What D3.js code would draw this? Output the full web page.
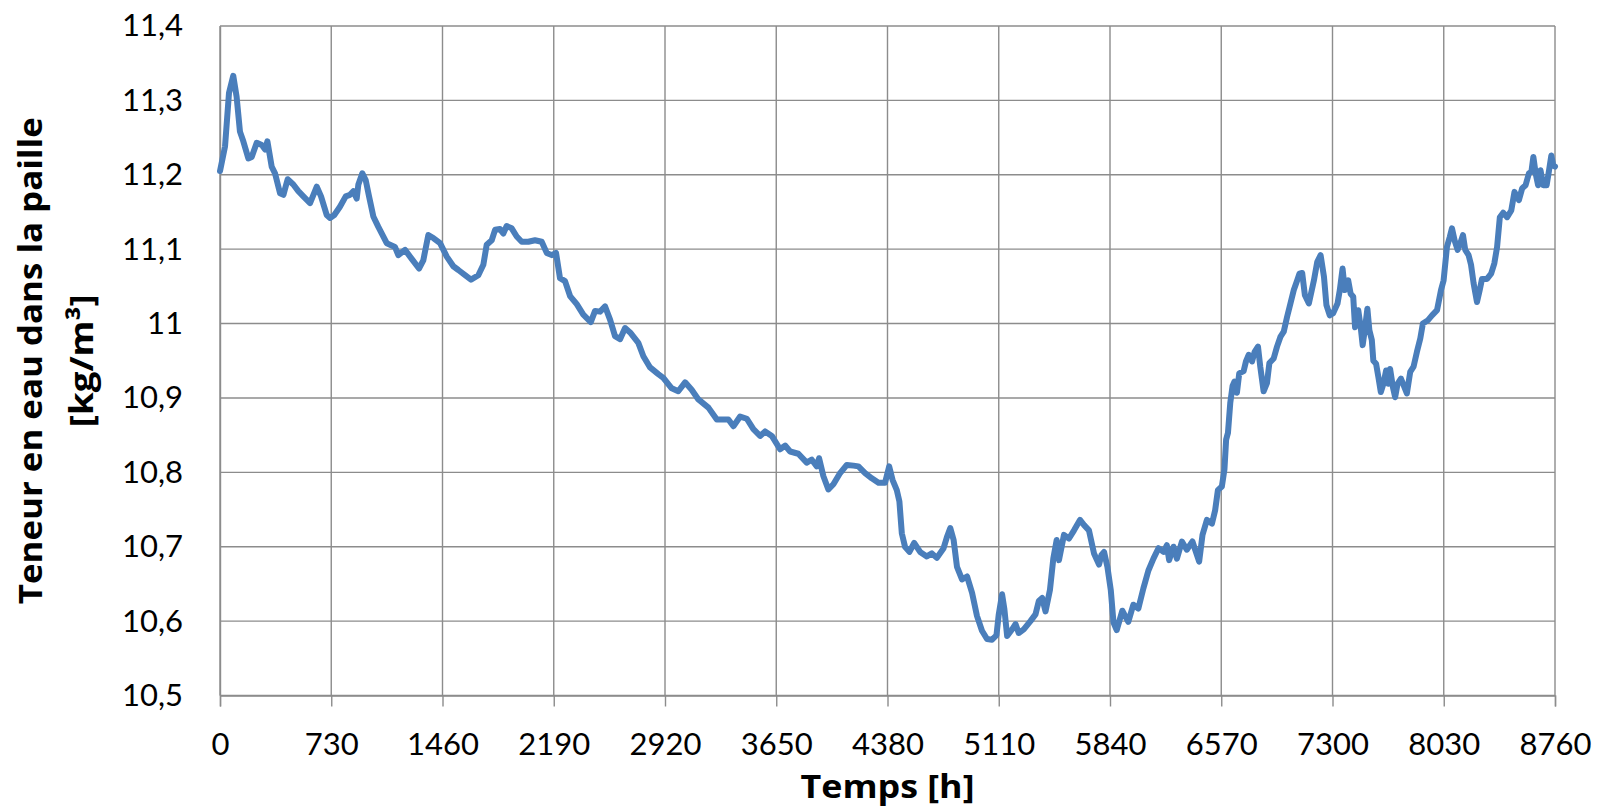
<!DOCTYPE html>
<html>
<head>
<meta charset="utf-8">
<script src="https://cdn.jsdelivr.net/npm/d3@7"></script>
<style>
	body { margin: 0; background: #fff; }
	svg { display: block; }
</style>
</head>
<body>
<svg id="chart" width="1599" height="811"></svg>
<script>
// hours of the year and water content of the straw [kg/m3]
var hours = [
	0, 33, 59, 87, 109, 131, 153, 186, 208, 241, 274, 296, 311, 339, 361, 394, 416, 444, 481, 514,
	547, 591, 635, 663, 700, 722, 750, 787, 825, 853, 875, 897, 908, 934, 956, 978, 1006, 1039, 1072, 1094,
	1148, 1170, 1214, 1258, 1306, 1334, 1367, 1400, 1444, 1488, 1531, 1564, 1608, 1647, 1695, 1728, 1750, 1783, 1805, 1837,
	1859, 1881, 1914, 1947, 1980, 2023, 2067, 2111, 2144, 2177, 2205, 2231, 2264, 2297, 2341, 2384, 2433, 2461, 2494, 2527,
	2560, 2592, 2625, 2658, 2691, 2745, 2778, 2822, 2876, 2909, 2964, 3007, 3052, 3095, 3139, 3205, 3260, 3303, 3336, 3369,
	3413, 3457, 3500, 3544, 3577, 3621, 3675, 3708, 3741, 3795, 3850, 3883, 3916, 3931, 3959, 3992, 4025, 4069, 4113, 4157,
	4189, 4233, 4277, 4321, 4364, 4391, 4413, 4441, 4458, 4474, 4495, 4524, 4555, 4594, 4638, 4671, 4704, 4748, 4770, 4792,
	4814, 4836, 4869, 4902, 4935, 4967, 5000, 5033, 5066, 5095, 5110, 5132, 5147, 5165, 5198, 5220, 5241, 5274, 5318, 5351,
	5373, 5395, 5417, 5446, 5468, 5490, 5505, 5538, 5571, 5604, 5643, 5670, 5702, 5735, 5768, 5784, 5801, 5823, 5845, 5863,
	5884, 5921, 5960, 5993, 6026, 6059, 6092, 6125, 6158, 6191, 6213, 6228, 6257, 6279, 6312, 6344, 6381, 6399, 6425, 6447,
	6476, 6509, 6530, 6548, 6574, 6591, 6602, 6614, 6629, 6644, 6657, 6673, 6688, 6717, 6732, 6750, 6772, 6789, 6811, 6826,
	6848, 6870, 6886, 6914, 6936, 6958, 6980, 7002, 7024, 7046, 7068, 7083, 7101, 7119, 7145, 7178, 7200, 7222, 7244, 7260,
	7282, 7304, 7333, 7348, 7366, 7381, 7403, 7419, 7436, 7448, 7469, 7485, 7498, 7513, 7529, 7542, 7558, 7568, 7586, 7601,
	7617, 7634, 7652, 7667, 7678, 7696, 7711, 7727, 7749, 7771, 7788, 7810, 7832, 7854, 7876, 7893, 7924, 7953, 7986, 8012,
	8029, 8051, 8069, 8084, 8101, 8121, 8139, 8156, 8171, 8193, 8209, 8226, 8248, 8266, 8281, 8314, 8341, 8362, 8380, 8398,
	8420, 8446, 8473, 8494, 8523, 8545, 8567, 8589, 8605, 8618, 8633, 8649, 8665, 8683, 8705, 8721, 8736, 8749, 8760
];
var waterContent = [
	11.205, 11.238, 11.310, 11.333, 11.305, 11.258, 11.245, 11.222, 11.224, 11.243, 11.240, 11.234, 11.245, 11.211, 11.202, 11.175, 11.173, 11.194, 11.187, 11.178,
	11.171, 11.162, 11.184, 11.171, 11.146, 11.142, 11.146, 11.157, 11.171, 11.173, 11.178, 11.168, 11.187, 11.202, 11.193, 11.171, 11.144, 11.130, 11.117, 11.108,
	11.103, 11.092, 11.099, 11.087, 11.074, 11.085, 11.119, 11.115, 11.108, 11.090, 11.077, 11.072, 11.065, 11.059, 11.065, 11.079, 11.106, 11.112, 11.126, 11.127,
	11.121, 11.131, 11.128, 11.117, 11.110, 11.110, 11.112, 11.110, 11.095, 11.092, 11.095, 11.061, 11.057, 11.037, 11.026, 11.012, 11.002, 11.017, 11.016, 11.023,
	11.005, 10.983, 10.979, 10.994, 10.988, 10.974, 10.956, 10.941, 10.932, 10.927, 10.913, 10.909, 10.921, 10.911, 10.898, 10.887, 10.871, 10.871, 10.871, 10.862,
	10.875, 10.872, 10.858, 10.849, 10.855, 10.849, 10.831, 10.836, 10.828, 10.825, 10.813, 10.817, 10.808, 10.819, 10.795, 10.777, 10.784, 10.799, 10.810, 10.809,
	10.808, 10.799, 10.792, 10.786, 10.786, 10.808, 10.790, 10.776, 10.761, 10.718, 10.700, 10.693, 10.705, 10.693, 10.687, 10.691, 10.685, 10.698, 10.713, 10.725,
	10.709, 10.673, 10.656, 10.660, 10.638, 10.607, 10.587, 10.576, 10.575, 10.581, 10.609, 10.636, 10.616, 10.580, 10.589, 10.596, 10.584, 10.589, 10.600, 10.609,
	10.627, 10.631, 10.613, 10.642, 10.684, 10.709, 10.682, 10.716, 10.711, 10.722, 10.736, 10.729, 10.722, 10.691, 10.676, 10.689, 10.693, 10.673, 10.642, 10.598,
	10.588, 10.614, 10.599, 10.622, 10.617, 10.644, 10.668, 10.684, 10.698, 10.693, 10.702, 10.682, 10.700, 10.684, 10.707, 10.696, 10.707, 10.696, 10.680, 10.716,
	10.736, 10.731, 10.749, 10.776, 10.781, 10.804, 10.844, 10.853, 10.893, 10.916, 10.922, 10.907, 10.933, 10.936, 10.949, 10.958, 10.949, 10.962, 10.969, 10.942,
	10.909, 10.920, 10.947, 10.953, 10.969, 10.982, 10.989, 11.009, 11.027, 11.045, 11.058, 11.067, 11.068, 11.038, 11.027, 11.058, 11.083, 11.092, 11.063, 11.025,
	11.011, 11.014, 11.027, 11.045, 11.074, 11.045, 11.058, 11.040, 11.036, 10.995, 11.018, 10.995, 10.971, 10.993, 11.020, 10.991, 10.978, 10.950, 10.946, 10.928,
	10.908, 10.919, 10.937, 10.919, 10.939, 10.915, 10.901, 10.919, 10.926, 10.915, 10.906, 10.935, 10.942, 10.962, 10.980, 11.000, 11.004, 11.011, 11.018, 11.045,
	11.058, 11.103, 11.116, 11.128, 11.112, 11.099, 11.108, 11.119, 11.099, 11.092, 11.079, 11.054, 11.029, 11.045, 11.060, 11.060, 11.067, 11.081, 11.103, 11.143,
	11.149, 11.143, 11.152, 11.177, 11.166, 11.182, 11.186, 11.202, 11.204, 11.224, 11.202, 11.186, 11.206, 11.186, 11.186, 11.206, 11.226, 11.212, 11.211
];

var xTicks = [0, 730, 1460, 2190, 2920, 3650, 4380, 5110, 5840, 6570, 7300, 8030, 8760];
var yTicks = [10.5, 10.6, 10.7, 10.8, 10.9, 11.0, 11.1, 11.2, 11.3, 11.4];

var xTitle = "Temps [h]";
var yTitleLines = ["Teneur en eau dans la paille", "[kg/m³]"];
var yTitleWidths = [487, 133];

var FONT = "Lato, 'Open Sans', sans-serif";
var TITLE_FONT = "'Open Sans', Lato, sans-serif";
var GRID = "#8c8c8c";

var svg = d3.select("#chart");
var margin = {left: 220, top: 26, right: 44, bottom: 115.5};
var width = 1599 - margin.left - margin.right;
var height = 811 - margin.top - margin.bottom;

var x = d3.scaleLinear().domain([0, 8760]).range([0, width]);
var y = d3.scaleLinear().domain([10.5, 11.4]).range([height, 0]);

var g = svg.append("g").attr("transform", "translate(" + margin.left + "," + margin.top + ")");

// grid lines
g.append("g").selectAll("line.h").data(yTicks).enter().append("line")
	.attr("x1", 0).attr("x2", width)
	.attr("y1", function (d) { return y(d); })
	.attr("y2", function (d) { return y(d); })
	.attr("stroke", GRID).attr("stroke-width", 1.4);
g.append("g").selectAll("line.v").data(xTicks).enter().append("line")
	.attr("y1", 0).attr("y2", height)
	.attr("x1", function (d) { return x(d); })
	.attr("x2", function (d) { return x(d); })
	.attr("stroke", GRID).attr("stroke-width", 1.4);

// x axis
var xAxis = g.append("g")
	.attr("transform", "translate(0," + height + ")")
	.call(d3.axisBottom(x).tickValues(xTicks).tickSize(11).tickPadding(26).tickFormat(d3.format("d")));
xAxis.select(".domain").attr("stroke", GRID).attr("stroke-width", 1.4);
xAxis.selectAll(".tick line").attr("stroke", GRID).attr("stroke-width", 1.4);
xAxis.selectAll("text").attr("font-family", FONT).attr("font-size", "31px").attr("fill", "#000");

// y axis
var commaFormat = function (d) {
	return String(Math.round(d * 10) / 10).replace(".", ",");
};
var yAxis = g.append("g")
	.call(d3.axisLeft(y).tickValues(yTicks).tickSize(0).tickPadding(37).tickFormat(commaFormat));
yAxis.select(".domain").attr("stroke", GRID).attr("stroke-width", 1.4);
yAxis.selectAll("text").attr("font-family", FONT).attr("font-size", "31px").attr("fill", "#000");

// the series
var line = d3.line()
	.x(function (d, i) { return x(hours[i]); })
	.y(function (d) { return y(d); });
g.append("path")
	.datum(waterContent)
	.attr("d", line)
	.attr("fill", "none")
	.attr("stroke", "#4a7ebb")
	.attr("stroke-width", 6)
	.attr("stroke-linejoin", "round")
	.attr("stroke-linecap", "round");

// axis titles
svg.append("text")
	.attr("x", margin.left + width / 2)
	.attr("y", 798)
	.attr("text-anchor", "middle")
	.attr("font-family", TITLE_FONT).attr("font-weight", "bold").attr("font-size", "33px")
	.attr("textLength", 174).attr("lengthAdjust", "spacingAndGlyphs")
	.text(xTitle);

var yTitle = svg.append("text")
	.attr("transform", "translate(0," + (margin.top + height / 2) + ") rotate(-90)")
	.attr("text-anchor", "middle")
	.attr("font-family", TITLE_FONT).attr("font-weight", "bold").attr("font-size", "33px");
yTitle.selectAll("tspan").data(yTitleLines).enter().append("tspan")
	.attr("x", 0)
	.attr("y", function (d, i) { return 42 + i * 51; })
	.attr("textLength", function (d, i) { return yTitleWidths[i]; })
	.attr("lengthAdjust", "spacingAndGlyphs")
	.text(function (d) { return d; });
</script>
</body>
</html>
